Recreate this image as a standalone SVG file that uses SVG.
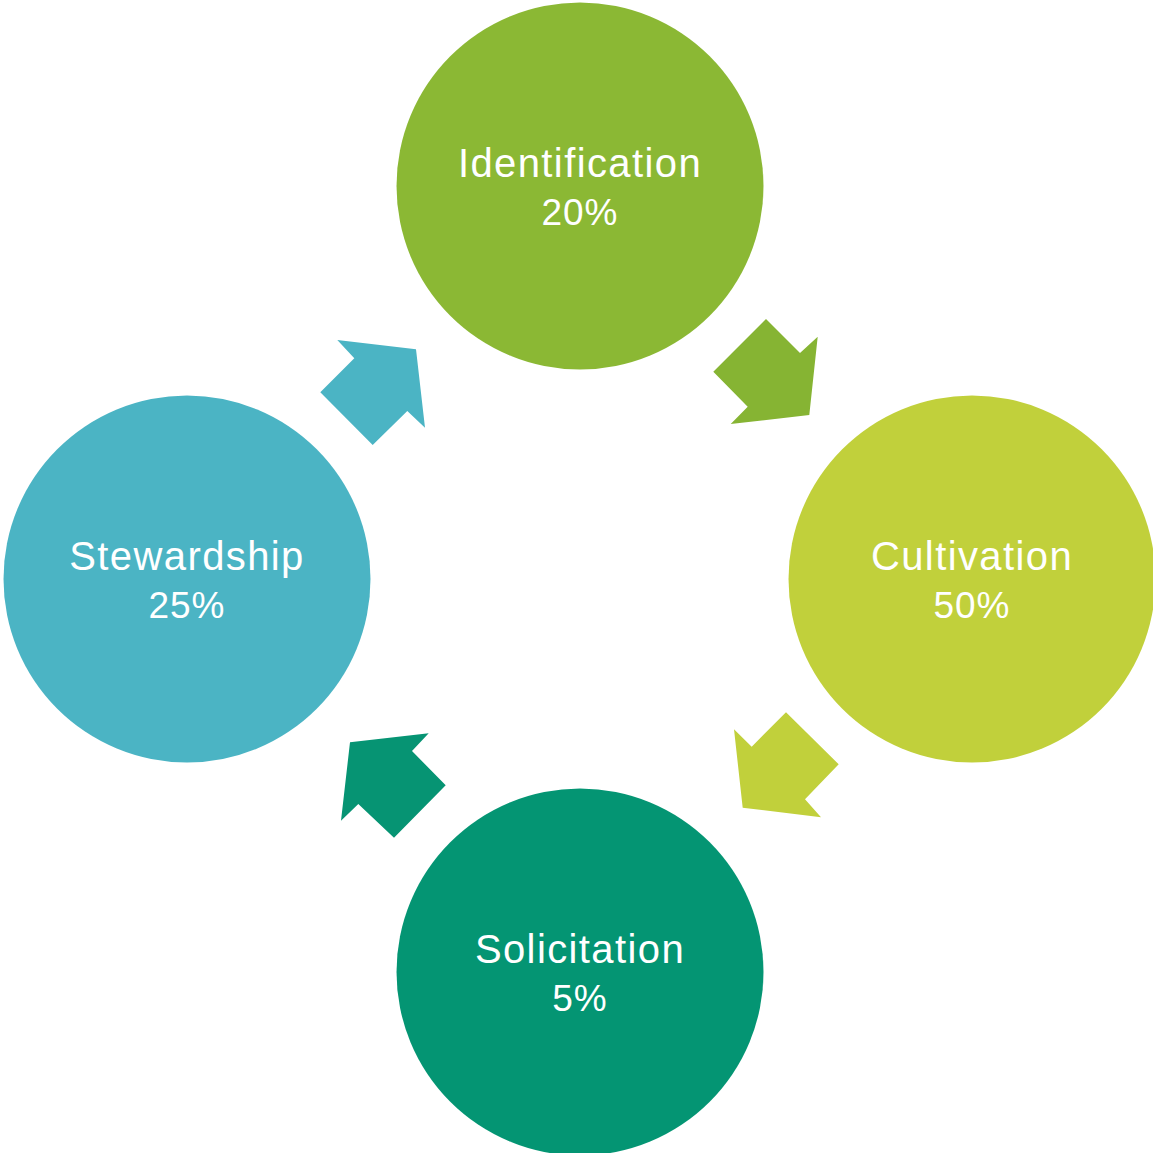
<svg xmlns="http://www.w3.org/2000/svg" width="1153" height="1153" viewBox="0 0 1153 1153">
<style>
.lbl{font-family:"Liberation Sans",Arial,sans-serif;font-size:40px;fill:#fff;text-anchor:middle;letter-spacing:1.4px}
.pct{font-size:37px;letter-spacing:1px}
</style>
<rect width="1153" height="1153" fill="#fff"/>
<g id="connectors">
<polygon fill="#86B433" points="766,319 800,353 817.7,336.7 809.3,415 730.7,424 747.7,406.7 713.3,371.7"/>
<polygon fill="#C1D03B" points="786,712.3 838.7,764.3 805,799.3 821,817.3 742.7,807.7 734,729.3 751.7,746.7"/>
<polygon fill="#069473" points="428.7,733.3 412,751 445.7,785.3 394,837.7 358.3,804 341,820.7 350,742.3"/>
<polygon fill="#4BB4C4" points="337.3,340 416,349.3 425,427.7 407.3,411 372.7,445 320.3,392.3 354.3,358.3"/>
</g>
<g id="identification">
<circle cx="580" cy="186" r="183.5" fill="#8BB834"/>
<text class="lbl" x="580" y="176.7">Identification</text>
<text class="lbl pct" x="580" y="224.5">20%</text>
</g>
<g id="cultivation">
<circle cx="972" cy="579" r="183.5" fill="#C1D03B"/>
<text class="lbl" x="972" y="569.7">Cultivation</text>
<text class="lbl pct" x="972" y="617.5">50%</text>
</g>
<g id="solicitation">
<circle cx="580" cy="972" r="183.5" fill="#049573"/>
<text class="lbl" x="580" y="962.7">Solicitation</text>
<text class="lbl pct" x="580" y="1010.5">5%</text>
</g>
<g id="stewardship">
<circle cx="187" cy="579" r="183.5" fill="#4BB4C4"/>
<text class="lbl" x="187" y="569.7">Stewardship</text>
<text class="lbl pct" x="187" y="617.5">25%</text>
</g>
</svg>
